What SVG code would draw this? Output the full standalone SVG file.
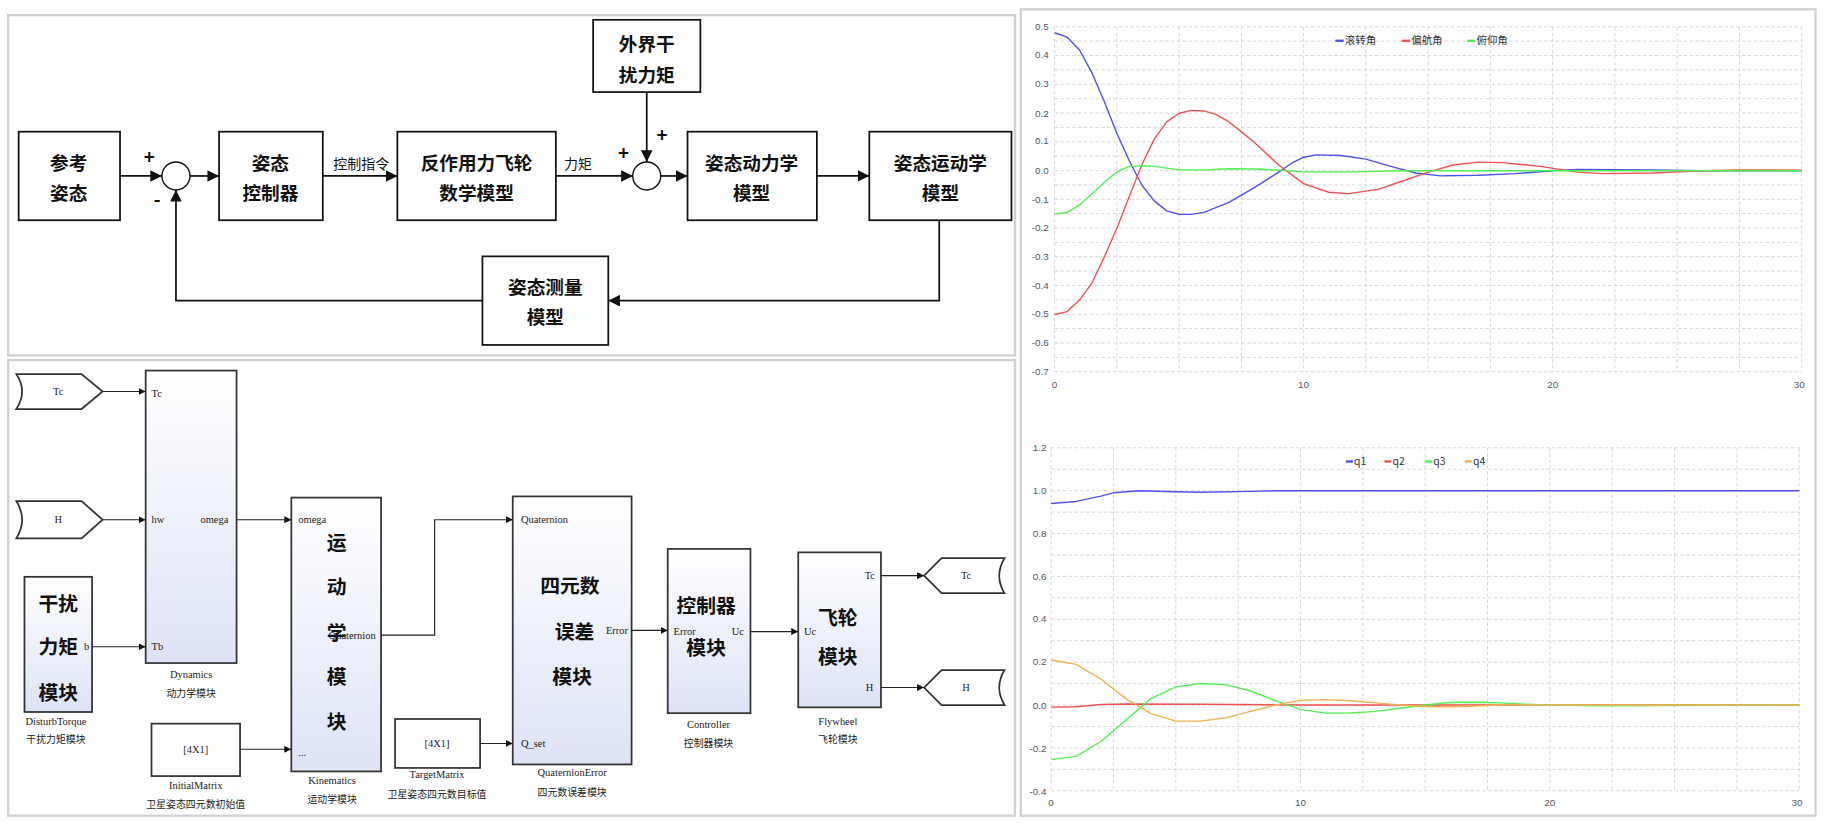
<svg xmlns="http://www.w3.org/2000/svg" width="1826" height="840" viewBox="0 0 1826 840">
<style>
.bx{fill:#fff;stroke:#111;stroke-width:1.5}
.big{font-family:"Noto Sans CJK SC",sans-serif;font-size:16px;font-weight:bold;text-anchor:middle;fill:#111}
.sm{font-family:"Noto Sans CJK SC",sans-serif;font-size:12px;text-anchor:middle;fill:#111}
.ln{fill:none;stroke:#111;stroke-width:1.5}
.sl{fill:none;stroke:#222;stroke-width:1}
.blk{fill:url(#gr);stroke:#333;stroke-width:1.5}
.ser{font-family:"Liberation Serif",serif;font-size:9px;fill:#222}
.serc{font-family:"Liberation Serif",serif;font-size:9px;fill:#222;text-anchor:middle}
.cjs{font-family:"Noto Sans CJK SC",sans-serif;font-size:8.5px;fill:#222;text-anchor:middle}
.bg{font-family:"Noto Sans CJK SC",sans-serif;font-size:17px;font-weight:bold;fill:#111;text-anchor:middle}
.grid{fill:none;stroke:#d4d4d4;stroke-width:0.8;stroke-dasharray:3 2}
.ax{font-family:"Liberation Sans",sans-serif;font-size:8.5px;fill:#555}
.axr{font-family:"Liberation Sans",sans-serif;font-size:8.5px;fill:#555;text-anchor:end}
.axm{font-family:"Liberation Sans",sans-serif;font-size:8.5px;fill:#555;text-anchor:middle}
.lg{font-family:"Noto Sans CJK SC",sans-serif;font-size:9px;fill:#333}
.cv{fill:none;stroke-width:1.2;stroke-linejoin:round}
.panel{fill:#fff;stroke:#d0d0d0;stroke-width:2}
</style>
<defs>
<marker id="ah" viewBox="0 0 10 10" refX="10" refY="5" markerWidth="10" markerHeight="10" markerUnits="userSpaceOnUse" orient="auto"><path d="M0,0 L10,5 L0,10 Z" fill="#111"/></marker>
<marker id="as" viewBox="0 0 10 10" refX="10" refY="5" markerWidth="6" markerHeight="6" markerUnits="userSpaceOnUse" orient="auto"><path d="M0,0 L10,5 L0,10 Z" fill="#111"/></marker>
<linearGradient id="gr" x1="0" y1="0" x2="0" y2="1"><stop offset="0" stop-color="#ffffff"/><stop offset="1" stop-color="#dde3f5"/></linearGradient>
</defs>
<rect width="1826" height="840" fill="#fff"/>
<g transform="scale(1.1653)">
<rect class="panel" x="7" y="13" width="864" height="292"/>
<rect class="panel" x="7" y="309" width="864" height="391"/>
<rect class="panel" x="876" y="8" width="682" height="692"/>

<!-- top block diagram -->
<g id="ref"><rect class="bx" x="16" y="113" width="87" height="76"/><text class="big" x="59" y="146">参考</text><text class="big" x="59" y="172">姿态</text></g>
<g id="sum1"><circle cx="151" cy="151" r="12" fill="#fff" stroke="#111" stroke-width="1.2"/><text class="big" x="128" y="141" font-size="14">+</text><text class="big" x="135" y="177" font-size="14">-</text></g>
<g id="ctrl"><rect class="bx" x="188" y="113" width="89" height="76"/><text class="big" x="232" y="146">姿态</text><text class="big" x="232" y="172">控制器</text></g>
<g id="wheel"><rect class="bx" x="341" y="113" width="136" height="76"/><text class="big" x="409" y="146">反作用力飞轮</text><text class="big" x="409" y="172">数学模型</text></g>
<g id="sum2"><circle cx="555" cy="151" r="12" fill="#fff" stroke="#111" stroke-width="1.2"/><text class="big" x="535" y="137" font-size="14">+</text><text class="big" x="568" y="122" font-size="14">+</text></g>
<g id="dist"><rect class="bx" x="509" y="17" width="92" height="62"/><text class="big" x="555" y="44">外界干</text><text class="big" x="555" y="70">扰力矩</text></g>
<g id="dyn"><rect class="bx" x="590" y="113" width="111" height="76"/><text class="big" x="645" y="146">姿态动力学</text><text class="big" x="645" y="172">模型</text></g>
<g id="kin"><rect class="bx" x="746" y="113" width="122" height="76"/><text class="big" x="807" y="146">姿态运动学</text><text class="big" x="807" y="172">模型</text></g>
<g id="meas"><rect class="bx" x="414" y="220" width="108" height="76"/><text class="big" x="468" y="252">姿态测量</text><text class="big" x="468" y="278">模型</text></g>
<g id="top-connectors">
<path class="ln" d="M103,151 H139" marker-end="url(#ah)"/>
<path class="ln" d="M163,151 H188" marker-end="url(#ah)"/>
<path class="ln" d="M277,151 H341" marker-end="url(#ah)"/>
<path class="ln" d="M477,151 H543" marker-end="url(#ah)"/>
<path class="ln" d="M567,151 H590" marker-end="url(#ah)"/>
<path class="ln" d="M701,151 H746" marker-end="url(#ah)"/>
<path class="ln" d="M555,79 V139" marker-end="url(#ah)"/>
<path class="ln" d="M806,189 V258 H522" marker-end="url(#ah)"/>
<path class="ln" d="M414,258 H151 V163" marker-end="url(#ah)"/>
<text class="sm" x="310" y="145">控制指令</text>
<text class="sm" x="496" y="145">力矩</text>
</g>

<!-- simulink -->
<g id="inTc"><path d="M14,321 L70,321 L88,336 L70,351 L14,351 Q24,336 14,321 Z" fill="#fff" stroke="#333" stroke-width="1.5"/><text class="serc" x="50" y="339">Tc</text></g>
<g id="inH"><path d="M14,430 L70,430 L88,446 L70,462 L14,462 Q24,446 14,430 Z" fill="#fff" stroke="#333" stroke-width="1.5"/><text class="serc" x="50" y="449">H</text></g>
<g id="dynamics"><rect class="blk" x="125" y="318" width="78" height="251"/><text class="ser" x="130" y="341">Tc</text><text class="ser" x="130" y="449">hw</text><text class="ser" x="172" y="449">omega</text><text class="ser" x="130" y="558">Tb</text><text class="serc" x="164" y="582">Dynamics</text><text class="cjs" x="164" y="598">动力学模块</text></g>
<g id="disturb"><rect class="blk" x="21" y="495" width="58" height="116"/><text class="ser" x="72" y="558">b</text><text class="bg" x="50" y="524">干扰</text><text class="bg" x="50" y="561">力矩</text><text class="bg" x="50" y="601">模块</text><text class="serc" x="48" y="622">DisturbTorque</text><text class="cjs" x="48" y="638">干扰力矩模块</text></g>
<g id="kinematics"><rect class="blk" x="250" y="427" width="77" height="235"/><text class="ser" x="256" y="449">omega</text><text class="bg" x="289" y="472">运</text><text class="bg" x="289" y="510">动</text><text class="bg" x="289" y="549">学</text><text class="bg" x="289" y="587">模</text><text class="bg" x="289" y="626">块</text><text class="ser" x="282" y="548">Quaternion</text><text class="ser" x="256" y="649">...</text><text class="serc" x="285" y="673">Kinematics</text><text class="cjs" x="285" y="689">运动学模块</text></g>
<g id="initial"><rect x="130" y="621" width="76" height="45" fill="#fff" stroke="#333" stroke-width="1.5"/><text class="serc" x="168" y="646">[4X1]</text><text class="serc" x="168" y="677">InitialMatrix</text><text class="cjs" x="168" y="693">卫星姿态四元数初始值</text></g>
<g id="target"><rect x="339" y="617" width="73" height="42" fill="#fff" stroke="#333" stroke-width="1.5"/><text class="serc" x="375" y="641">[4X1]</text><text class="serc" x="375" y="668">TargetMatrix</text><text class="cjs" x="375" y="685">卫星姿态四元数目标值</text></g>
<g id="qerror"><rect class="blk" x="440" y="426" width="102" height="230"/><text class="ser" x="447" y="449">Quaternion</text><text class="bg" x="489" y="509">四元数</text><text class="bg" x="493" y="548">误差</text><text class="bg" x="491" y="587">模块</text><text class="ser" x="520" y="544">Error</text><text class="ser" x="447" y="641">Q_set</text><text class="serc" x="491" y="666">QuaternionError</text><text class="cjs" x="491" y="683">四元数误差模块</text></g>
<g id="controller"><rect class="blk" x="573" y="471" width="71" height="141"/><text class="bg" x="606" y="526">控制器</text><text class="ser" x="578" y="545">Error</text><text class="ser" x="628" y="545">Uc</text><text class="bg" x="606" y="562">模块</text><text class="serc" x="608" y="625">Controller</text><text class="cjs" x="608" y="641">控制器模块</text></g>
<g id="flywheel"><rect class="blk" x="685" y="474" width="71" height="133"/><text class="bg" x="719" y="536">飞轮</text><text class="bg" x="719" y="570">模块</text><text class="ser" x="690" y="545">Uc</text><text class="ser" x="742" y="497">Tc</text><text class="ser" x="743" y="593">H</text><text class="serc" x="719" y="622">Flywheel</text><text class="cjs" x="719" y="638">飞轮模块</text></g>
<g id="outTc"><path d="M793,494 L808,479 L862,479 Q853,494 862,509 L808,509 Z" fill="#fff" stroke="#333" stroke-width="1.5"/><text class="serc" x="829" y="497">Tc</text></g>
<g id="outH"><path d="M793,590 L808,575 L862,575 Q853,590 862,605 L808,605 Z" fill="#fff" stroke="#333" stroke-width="1.5"/><text class="serc" x="829" y="593">H</text></g>
<g id="sim-connectors">
<path class="sl" d="M88,336 H125" marker-end="url(#as)"/>
<path class="sl" d="M88,446 H125" marker-end="url(#as)"/>
<path class="sl" d="M79,555 H125" marker-end="url(#as)"/>
<path class="sl" d="M203,446 H250" marker-end="url(#as)"/>
<path class="sl" d="M206,643 H250" marker-end="url(#as)"/>
<path class="sl" d="M327,545 H373 V446 H440" marker-end="url(#as)"/>
<path class="sl" d="M412,638 H440" stroke-width="1.6" marker-end="url(#as)"/>
<path class="sl" d="M542,541 H573" marker-end="url(#as)"/>
<path class="sl" d="M644,542 H685" marker-end="url(#as)"/>
<path class="sl" d="M756,494 H793" marker-end="url(#as)"/>
<path class="sl" d="M756,590 H793" marker-end="url(#as)"/>
</g>

<!-- chart 1 -->
<path class="grid" d="M905,23V319M958.4,23V319M1011.9,23V319M1065.3,23V319M1118.7,23V319M1172.1,23V319M1225.6,23V319M1279,23V319M1332.4,23V319M1385.8,23V319M1439.3,23V319M1492.7,23V319M1546.1,23V319"/>
<path class="grid" d="M905,23H1546M905,35.3H1546M905,47.7H1546M905,60H1546M905,72.3H1546M905,84.7H1546M905,97H1546M905,109.3H1546M905,121.7H1546M905,134H1546M905,146.5H1546M905,158.7H1546M905,171H1546M905,183.3H1546M905,195.7H1546M905,208H1546M905,220.3H1546M905,232.7H1546M905,245H1546M905,257.3H1546M905,269.7H1546M905,282H1546M905,294.3H1546M905,306.7H1546M905,319H1546"/>
<g class="axr"><text x="900" y="26">0.5</text><text x="900" y="50">0.4</text><text x="900" y="75">0.3</text><text x="900" y="100">0.2</text><text x="900" y="124">0.1</text><text x="900" y="149">0.0</text><text x="900" y="174">-0.1</text><text x="900" y="198">-0.2</text><text x="900" y="223">-0.3</text><text x="900" y="248">-0.4</text><text x="900" y="272">-0.5</text><text x="900" y="297">-0.6</text><text x="900" y="322">-0.7</text></g>
<g class="axm"><text x="905" y="333">0</text><text x="1118.7" y="333">10</text><text x="1332.4" y="333">20</text><text x="1544" y="333">30</text></g>
<path d="M1146,35H1153" stroke="#4a4af0" stroke-width="2"/><text class="lg" x="1154" y="38">滚转角</text>
<path d="M1203,35H1210" stroke="#f04a4a" stroke-width="2"/><text class="lg" x="1211" y="38">偏航角</text>
<path d="M1259,35H1266" stroke="#4af04a" stroke-width="2"/><text class="lg" x="1267" y="38">俯仰角</text>
<polyline class="cv" stroke="#5050f0" points="905,28.1 915.7,31.8 926.4,42.9 937.1,62.6 947.7,87.3 958.4,114.4 969.1,137.9 979.8,158.8 990.5,172.4 1001.2,181 1011.9,184 1022.5,184 1033.2,182.3 1054.6,173.6 1076,161.3 1097.3,147.7 1108,140.3 1118.7,134.9 1129.4,132.9 1150.8,133.4 1172.1,136.6 1193.5,142.8 1214.9,148.5 1236.2,150.9 1268.3,150.4 1300.3,149 1332.4,146.5 1353.8,145.5 1417.9,145.8 1460.6,146.5 1546.1,146.5"/>
<polyline class="cv" stroke="#f05050" points="905,269.9 915.7,267.4 926.4,257.5 937.1,242.7 947.7,220.5 958.4,195.8 969.1,168.7 979.8,141.6 990.5,119.4 1001.2,104.6 1011.9,97.2 1022.5,94.7 1033.2,95.2 1043.9,98.4 1054.6,104.6 1076,121.8 1097.3,141.6 1118.7,157.6 1140.1,165 1157.2,166.2 1182.8,162.5 1204.2,155.1 1225.6,147.7 1246.9,141.6 1268.3,139.1 1289.7,139.6 1321.7,142.8 1353.8,147.7 1375.1,149 1417.9,148.5 1460.6,146.5 1492.7,145.8 1546.1,146"/>
<polyline class="cv" stroke="#50f050" points="905,183.5 915.7,182.3 926.4,176.1 937.1,166.2 947.7,156.4 958.4,147.7 969.1,142.8 979.8,142.3 990.5,142.8 1011.9,145.8 1033.2,145.8 1054.6,144.8 1076,145 1097.3,146 1118.7,147.5 1161.4,147.5 1204.2,146.5 1546.1,146.5"/>

<!-- chart 2 -->
<path class="grid" d="M902,384.3V678.6M955.5,384.3V678.6M1009,384.3V678.6M1062.5,384.3V678.6M1116,384.3V678.6M1169.5,384.3V678.6M1223,384.3V678.6M1276.5,384.3V678.6M1330,384.3V678.6M1383.5,384.3V678.6M1437,384.3V678.6M1490.5,384.3V678.6M1544,384.3V678.6"/>
<path class="grid" d="M902,384.3H1544M902,402.7H1544M902,421.1H1544M902,439.5H1544M902,457.9H1544M902,476.3H1544M902,494.6H1544M902,513H1544M902,531.4H1544M902,549.8H1544M902,568.2H1544M902,586.6H1544M902,605H1544M902,623.4H1544M902,641.8H1544M902,660.2H1544M902,678.6H1544"/>
<g class="axr"><text x="898" y="387">1.2</text><text x="898" y="424">1.0</text><text x="898" y="461">0.8</text><text x="898" y="498">0.6</text><text x="898" y="534">0.4</text><text x="898" y="571">0.2</text><text x="898" y="608">0.0</text><text x="898" y="645">-0.2</text><text x="898" y="682">-0.4</text></g>
<g class="axm"><text x="902" y="692">0</text><text x="1116" y="692">10</text><text x="1330" y="692">20</text><text x="1542" y="692">30</text></g>
<path d="M1155,396H1161" stroke="#4a4af0" stroke-width="2"/><text class="lg" x="1162" y="399">q1</text>
<path d="M1188,396H1194" stroke="#f04a4a" stroke-width="2"/><text class="lg" x="1195" y="399">q2</text>
<path d="M1223,396H1229" stroke="#4af04a" stroke-width="2"/><text class="lg" x="1230" y="399">q3</text>
<path d="M1257,396H1263" stroke="#f0b050" stroke-width="2"/><text class="lg" x="1264" y="399">q4</text>
<polyline class="cv" stroke="#5050f0" points="902,432.1 923.4,430.3 944.8,425.7 955.5,422.9 976.9,421.1 1009,422 1030.4,422.4 1073.2,421.7 1094.6,421.1 1544,421.1"/>
<polyline class="cv" stroke="#f05050" points="902,606.8 923.4,606.5 944.8,604.6 966.2,604.1 1030.4,604.3 1116,605 1544,605"/>
<polyline class="cv" stroke="#50f050" points="902,651.9 923.4,649.1 944.8,636.3 966.2,617.9 987.6,599.5 1009,589.4 1030.4,586.6 1051.8,587.5 1073.2,593 1094.6,601.3 1116,608.7 1137.4,612 1158.8,611.8 1180.2,610.5 1201.6,607.8 1223,605 1244.4,602.8 1265.8,602.6 1287.2,603.2 1308.6,604.3 1330,605 1372.8,605.6 1544,605"/>
<polyline class="cv" stroke="#f0b050" points="902,566.4 923.4,570.1 944.8,582.9 966.2,599.5 987.6,612.4 1009,618.8 1030.4,618.8 1051.8,616 1073.2,610.5 1094.6,605 1116,601 1137.4,600.4 1158.8,601.3 1180.2,603.2 1201.6,605 1223,606.3 1244.4,606.5 1265.8,605.9 1287.2,605 1544,605"/>
</g>
</svg>
